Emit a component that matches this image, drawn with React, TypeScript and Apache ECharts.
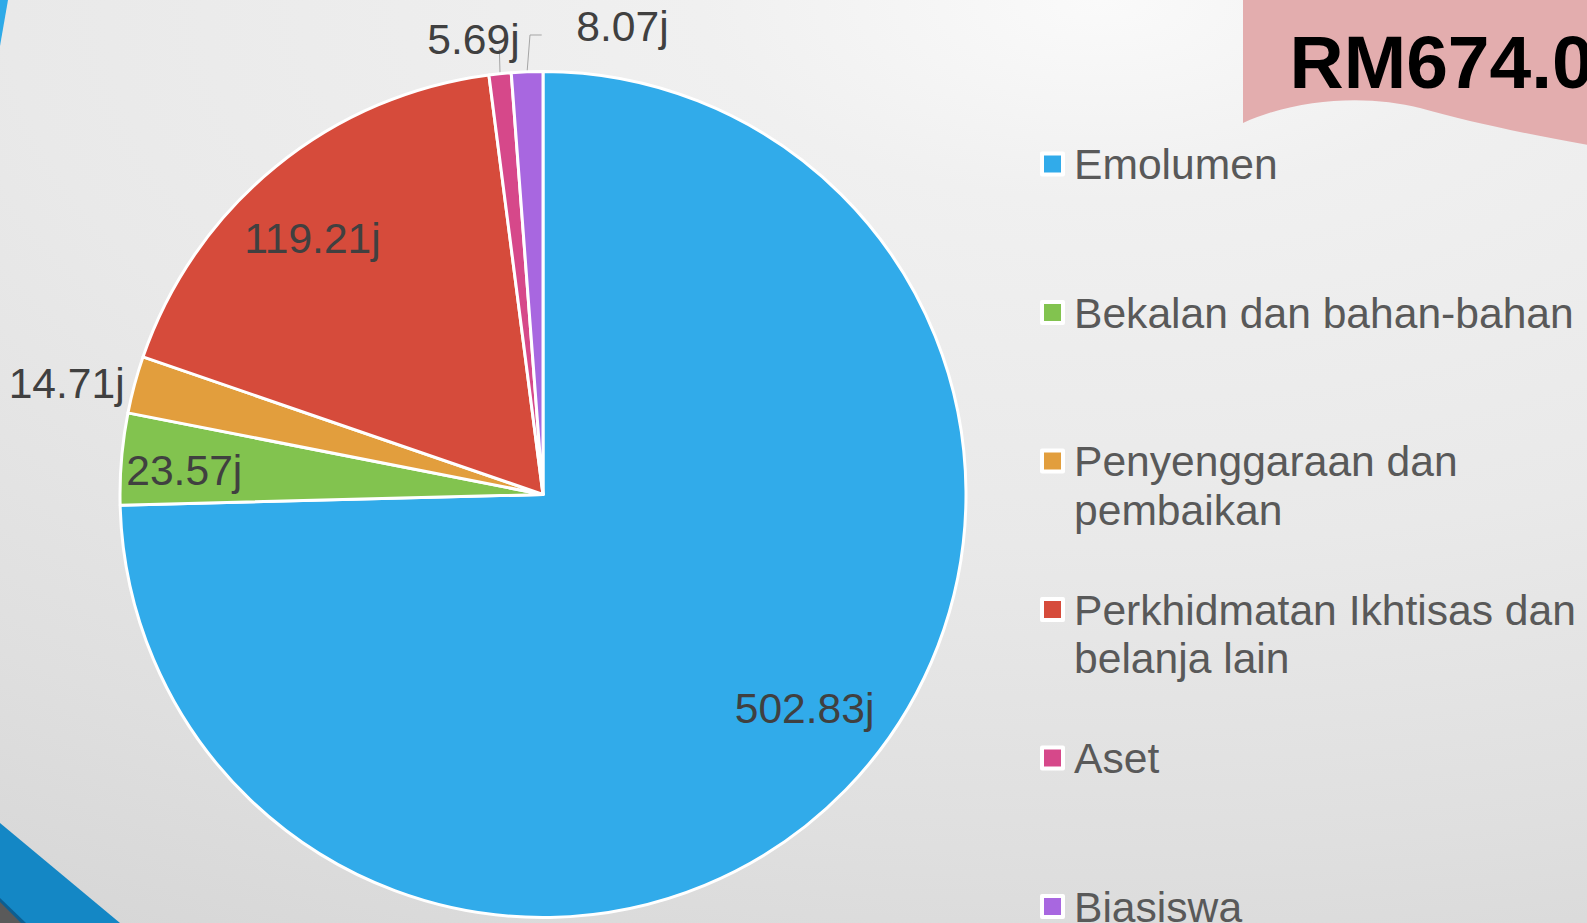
import React, { useEffect, useRef } from 'react';
import * as echarts from 'echarts';

// ---- data ----
const categories = [
  'Emolumen',
  'Bekalan dan bahan-bahan',
  'Penyenggaraan dan\npembaikan',
  'Perkhidmatan Ikhtisas dan\nbelanja lain',
  'Aset',
  'Biasiswa',
];
const values = [502.83, 23.57, 14.71, 119.21, 5.69, 8.07];
const colors = ['#31ABEA', '#82C34F', '#E29E3D', '#D64B3B', '#D6488A', '#A867E0'];
const labelModes = ['inside', 'inside', 'outside', 'inside', 'leader', 'leader'];
const valueSuffix = 'j';
const totalTitle = 'RM674.0';

// ---- layout / style ----
const W = 1587;
const H = 923;
const FONT = '"Liberation Sans", Arial, Helvetica, sans-serif';
const FS = 42.6;
const CX = 543;
const CY = 494.5;
const R = 423;

const insideShift: Record<number, [number, number]> = {
  0: [108, 64],
  1: [-145, -6],
  3: [-95, -90],
};
const leaderShift: Record<number, { label: [number, number]; line: [number, number][] }> = {
  4: { label: [-26.5, -34.7], line: [[-0.7, -24.4]] },
  5: { label: [95.4, -45.8], line: [[2.9, -36.8], [14.6, -36.8]] },
};

const BANNER_D =
  'M1243,0 L1600,0 L1600,147 C1530,135 1470,122 1420,108 C1370,95 1300,97 1243,123 Z';
echarts.graphic.registerShape('banner', echarts.graphic.extendPath(BANNER_D, {}) as any);

function edgePoint(i: number): [number, number] {
  const total = values.reduce((a, b) => a + b, 0);
  let acc = 0;
  for (let j = 0; j < i; j++) acc += values[j];
  const mid = ((acc + values[i] / 2) / total) * Math.PI * 2;
  return [CX + R * Math.sin(mid), CY - R * Math.cos(mid)];
}

export default function App() {
  const ref = useRef<HTMLDivElement>(null);

  useEffect(() => {
    if (!ref.current) return;
    const chart = echarts.init(ref.current, null, { renderer: 'svg', width: W, height: H });

    const data = values.map((v, i) => {
      const item: any = { name: categories[i], value: v, itemStyle: { color: colors[i] } };
      const mode = labelModes[i];
      if (mode === 'inside') {
        item.label = { position: 'inside' };
        item.labelLine = { show: false };
      } else if (mode === 'outside') {
        item.label = { position: 'outside', distanceToLabelLine: 5 };
        item.labelLine = { show: false, length: 5, length2: 0 };
      } else {
        item.label = { position: 'outside', distanceToLabelLine: 5 };
        item.labelLine = { show: true, length: 22, length2: 0 };
      }
      return item;
    });

    const option: any = {
      animation: false,
      backgroundColor: 'transparent',
      graphic: {
        elements: [
          { type: 'banner', x: 0, y: 0, z: 1, style: { fill: '#E3ADAE' } },
          {
            type: 'text',
            x: 1289.5,
            y: 62,
            z: 2,
            style: {
              text: totalTitle,
              fontSize: 75,
              fontWeight: 'bold',
              fontFamily: FONT,
              fill: '#000000',
              align: 'left',
              verticalAlign: 'middle',
            },
          },
          {
            type: 'polygon',
            z: 1,
            shape: { points: [[0, 0], [8, 0], [0, 46]] },
            style: { fill: '#2EAAE8' },
          },
          {
            type: 'polygon',
            z: 1,
            shape: { points: [[0, 823], [120, 923], [0, 923]] },
            style: { fill: '#1487C5' },
          },
          {
            type: 'polygon',
            z: 2,
            shape: { points: [[0, 898], [26, 923], [0, 923]] },
            style: { fill: '#0D5E91' },
          },
          {
            type: 'polygon',
            z: 3,
            shape: { points: [[0, 902], [21, 923], [0, 923]] },
            style: { fill: '#5A5A5A' },
          },
        ],
      },
      legend: {
        orient: 'vertical',
        left: 1040,
        top: 91.25,
        height: 1000,
        padding: 0,
        itemGap: 3,
        itemWidth: 21,
        itemHeight: 21,
        itemTextGap: 10,
        icon: 'rect',
        selectedMode: false,
        itemStyle: { borderColor: '#ffffff', borderWidth: 4 },
        data: categories,
        formatter: (name: string) => {
          const lines = name.split('\n');
          return lines.length > 1
            ? `{s| }\n{t|${lines[0]}}\n{t|${lines[1]}}`
            : `{s| }\n{t|${name}}\n{s| }`;
        },
        textStyle: {
          fontSize: FS,
          lineHeight: 48.5,
          color: '#595959',
          fontFamily: FONT,
          rich: {
            s: { fontSize: FS, lineHeight: 48.5, fontFamily: FONT },
            t: {
              fontSize: FS,
              lineHeight: 48.5,
              color: '#595959',
              fontFamily: FONT,
              padding: [0, 0, 0, 6],
            },
          },
        },
      },
      series: [
        {
          type: 'pie',
          center: [CX, CY],
          radius: [0, R],
          startAngle: 90,
          clockwise: true,
          avoidLabelOverlap: false,
          bleedMargin: 0,
          itemStyle: { borderColor: '#ffffff', borderWidth: 3 },
          emphasis: { disabled: true },
          label: {
            show: true,
            formatter: (p: any) => Number(p.value).toFixed(2) + valueSuffix,
            fontSize: FS,
            color: '#404040',
            fontFamily: FONT,
          },
          labelLine: { show: false, smooth: false, lineStyle: { color: '#A5A5A5', width: 1 } },
          labelLayout: (params: any) => {
            const i = params.dataIndex;
            if (insideShift[i]) {
              const r = params.labelRect;
              return {
                x: r.x + r.width / 2 + insideShift[i][0],
                y: r.y + r.height / 2 + insideShift[i][1],
                align: 'center',
                verticalAlign: 'middle',
              };
            }
            if (leaderShift[i]) {
              const p0: [number, number] =
                params.labelLinePoints && params.labelLinePoints[0]
                  ? [params.labelLinePoints[0][0], params.labelLinePoints[0][1]]
                  : edgePoint(i);
              const cfg = leaderShift[i];
              return {
                x: p0[0] + cfg.label[0],
                y: p0[1] + cfg.label[1],
                align: 'center',
                verticalAlign: 'middle',
                labelLinePoints: [p0, ...cfg.line.map((d) => [p0[0] + d[0], p0[1] + d[1]])],
              };
            }
            return {};
          },
          data,
        },
      ],
    };

    chart.setOption(option);
    return () => chart.dispose();
  }, []);

  return (
    <div
      ref={ref}
      style={{
        position: 'absolute',
        left: 0,
        top: 0,
        width: W,
        height: H,
        overflow: 'hidden',
        background:
          'radial-gradient(ellipse 2100px 1050px at 1100px 0px, #FAFAFA 0%, #F0F0F0 19%, #E9E9E9 52%, #DFDFDF 81%, #D7D7D7 100%)',
      }}
    />
  );
}
